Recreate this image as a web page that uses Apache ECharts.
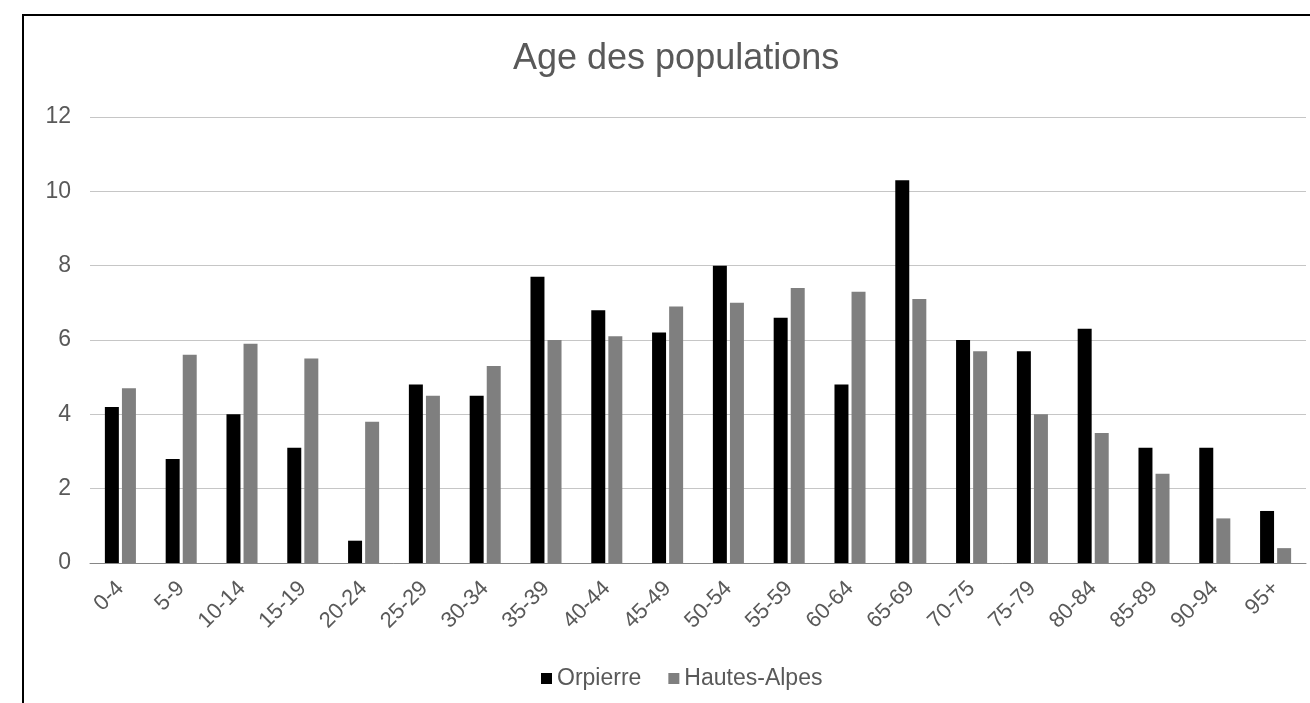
<!DOCTYPE html>
<html>
<head>
<meta charset="utf-8">
<script src="https://cdn.jsdelivr.net/npm/echarts@6/dist/echarts.min.js"></script>
<style>
html,body{margin:0;padding:0;background:#fff;overflow:hidden;}
#frame{position:absolute;left:22px;top:14px;width:1400px;height:800px;border:2px solid #000;box-sizing:border-box;}
#chart{position:absolute;left:0;top:0;width:1310px;height:703px;}
</style>
</head>
<body>
<div id="frame"></div>
<div id="chart"></div>
<script>
const categories = ['0-4','5-9','10-14','15-19','20-24','25-29','30-34','35-39','40-44','45-49','50-54','55-59','60-64','65-69','70-75','75-79','80-84','85-89','90-94','95+'];
const orpierre = [4.2,2.8,4.0,3.1,0.6,4.8,4.5,7.7,6.8,6.2,8.0,6.6,4.8,10.3,6.0,5.7,6.3,3.1,3.1,1.4];
const hautesAlpes = [4.7,5.6,5.9,5.5,3.8,4.5,5.3,6.0,6.1,6.9,7.0,7.4,7.3,7.1,5.7,4.0,3.5,2.4,1.2,0.4];
const yTicks = [0,2,4,6,8,10,12];

const chart = echarts.init(document.getElementById('chart'), null, {renderer:'canvas'});
const font = 'Liberation Sans, Arial, sans-serif';
chart.setOption({
  animation:false,
  backgroundColor:'transparent',
  title:{text:'Age des populations',left:508,top:36,textStyle:{fontFamily:font,fontSize:36,fontWeight:'normal',color:'#595959'}},
  legend:{top:662,left:536,itemWidth:11,itemHeight:11,itemGap:27,icon:'rect',
    textStyle:{fontFamily:font,fontSize:23,color:'#595959'},data:['Orpierre','Hautes-Alpes']},
  grid:{left:90,right:4,top:117,bottom:140,containLabel:false},
  xAxis:{type:'category',data:categories,
    axisLine:{lineStyle:{color:'#868686',width:1}},axisTick:{show:false},
    axisLabel:{rotate:45,interval:0,margin:22,fontFamily:font,fontSize:22,color:'#595959'}},
  yAxis:{type:'value',min:yTicks[0],max:yTicks[yTicks.length-1],interval:2,
    axisLine:{show:false},axisTick:{show:false},
    splitLine:{lineStyle:{color:'#c6c6c6',width:1}},
    axisLabel:{margin:19,fontFamily:font,fontSize:23,color:'#595959'}},
  series:[
    {name:'Orpierre',type:'bar',data:orpierre,barWidth:'23%',barGap:'22%',itemStyle:{color:'#000000'}},
    {name:'Hautes-Alpes',type:'bar',data:hautesAlpes,barWidth:'23%',itemStyle:{color:'#7f7f7f'}}
  ]
});
</script>
</body>
</html>
